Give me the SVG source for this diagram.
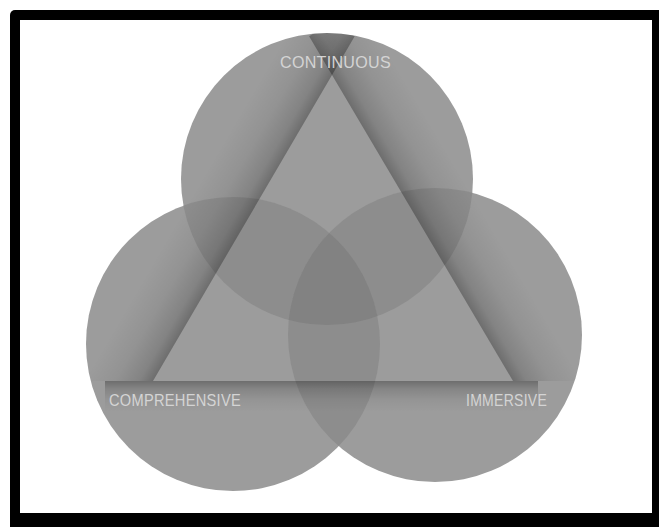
<svg xmlns="http://www.w3.org/2000/svg" width="659" height="527" viewBox="0 0 659 527">
  <style>
    .disc { fill: #9c9c9c; }
    .ov2 { fill: #8d8d8d; }
    .ov3 { fill: #828282; }
    .lbl { font-family: "Liberation Sans", "DejaVu Sans", sans-serif; font-size: 17px; fill: #d4d4d4; letter-spacing: 0.3px; }
  </style>
  <defs>
    <clipPath id="cT"><circle cx="327" cy="179" r="146"/></clipPath>
    <clipPath id="cL"><circle cx="233" cy="344" r="147"/></clipPath>
    <clipPath id="cR"><circle cx="435" cy="335" r="147"/></clipPath>
    <clipPath id="cAll">
      <circle cx="327" cy="179" r="146"/>
      <circle cx="233" cy="344" r="147"/>
      <circle cx="435" cy="335" r="147"/>
    </clipPath>
    <linearGradient id="gLeft" gradientUnits="userSpaceOnUse" x1="242.5" y1="228" x2="190.7" y2="197.7">
      <stop offset="0" stop-color="#000" stop-opacity="0.3"/>
      <stop offset="0.2" stop-color="#000" stop-opacity="0.16"/>
      <stop offset="0.55" stop-color="#000" stop-opacity="0.06"/>
      <stop offset="1" stop-color="#000" stop-opacity="0"/>
    </linearGradient>
    <linearGradient id="gRight" gradientUnits="userSpaceOnUse" x1="422.5" y1="228" x2="474.2" y2="197.5">
      <stop offset="0" stop-color="#000" stop-opacity="0.3"/>
      <stop offset="0.2" stop-color="#000" stop-opacity="0.16"/>
      <stop offset="0.55" stop-color="#000" stop-opacity="0.06"/>
      <stop offset="1" stop-color="#000" stop-opacity="0"/>
    </linearGradient>
    <linearGradient id="gBase" gradientUnits="userSpaceOnUse" x1="0" y1="381" x2="0" y2="412">
      <stop offset="0" stop-color="#000" stop-opacity="0.3"/>
      <stop offset="0.25" stop-color="#000" stop-opacity="0.15"/>
      <stop offset="0.6" stop-color="#000" stop-opacity="0.05"/>
      <stop offset="1" stop-color="#000" stop-opacity="0"/>
    </linearGradient>
  </defs>

  <!-- frame -->
  <rect x="10" y="10" width="660" height="530" rx="5" fill="#000"/>
  <rect x="20" y="20" width="632" height="493" fill="#fff"/>

  <!-- circles -->
  <g id="node-continuous">
    <circle class="disc" cx="327" cy="179" r="146"/>
  </g>
  <g id="node-comprehensive">
    <circle class="disc" cx="233" cy="344" r="147"/>
  </g>
  <g id="node-immersive">
    <circle class="disc" cx="435" cy="335" r="147"/>
  </g>

  <!-- overlaps -->
  <g id="overlaps">
    <circle class="ov2" cx="233" cy="344" r="147" clip-path="url(#cT)"/>
    <circle class="ov2" cx="435" cy="335" r="147" clip-path="url(#cT)"/>
    <circle class="ov2" cx="435" cy="335" r="147" clip-path="url(#cL)"/>
    <g clip-path="url(#cT)">
      <circle class="ov3" cx="435" cy="335" r="147" clip-path="url(#cL)"/>
    </g>
  </g>

  <!-- triangle shading -->
  <g id="connectors" clip-path="url(#cAll)">
    <polygon points="354.7,36.2 153,381 83,381 302.9,5.8" fill="url(#gLeft)"/>
    <polygon points="309.1,36.3 513,381 584,381 360.7,5.8" fill="url(#gRight)"/>
    <rect x="105" y="381" width="433" height="32" fill="url(#gBase)"/>
  </g>

  <!-- labels -->
  <g id="labels">
    <text class="lbl" x="280" y="68" textLength="111" lengthAdjust="spacingAndGlyphs">CONTINUOUS</text>
    <text class="lbl" x="109" y="406" textLength="132" lengthAdjust="spacingAndGlyphs">COMPREHENSIVE</text>
    <text class="lbl" x="466" y="406" textLength="81" lengthAdjust="spacingAndGlyphs">IMMERSIVE</text>
  </g>
</svg>
